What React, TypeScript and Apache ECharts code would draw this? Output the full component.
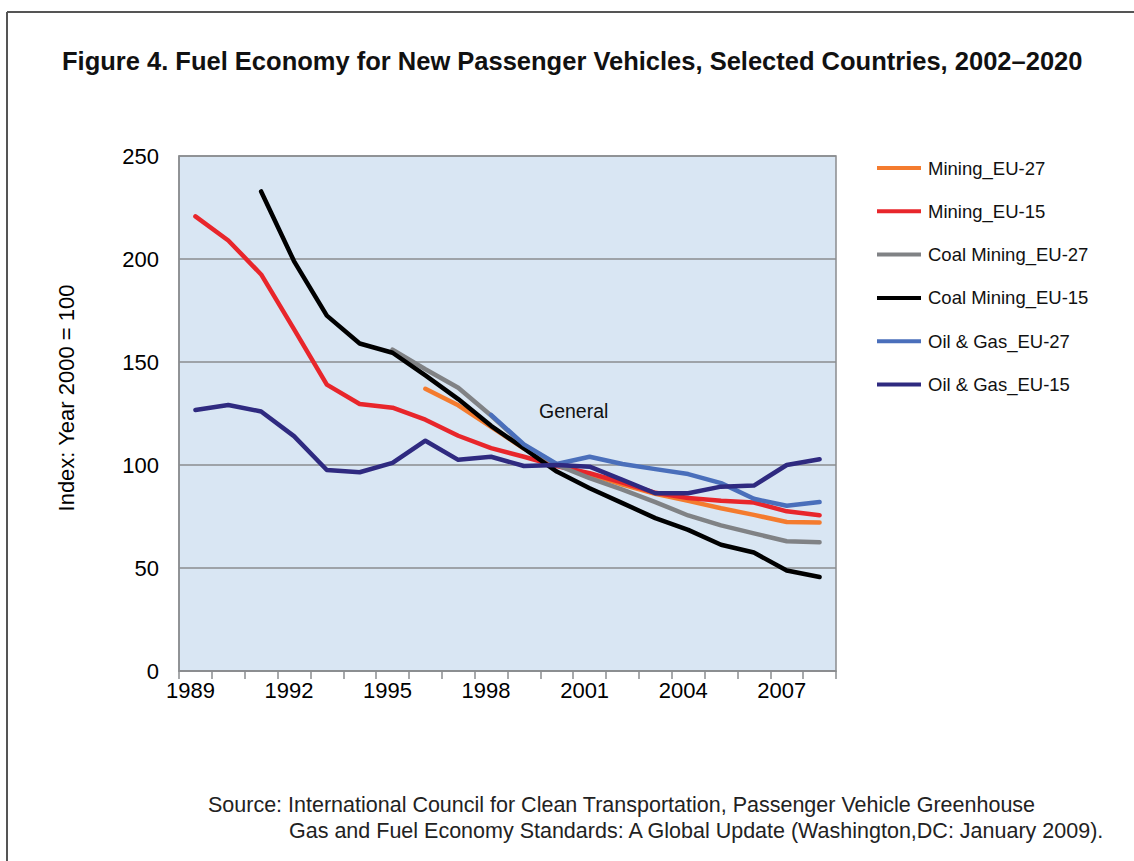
import React, { useEffect, useRef } from "react";
import * as echarts from "echarts";

const years = ["1989", "1990", "1991", "1992", "1993", "1994", "1995", "1996", "1997", "1998", "1999", "2000", "2001", "2002", "2003", "2004", "2005", "2006", "2007", "2008"];

const miningEU27 = [null, null, null, null, null, null, null, 137, 129, 118.5, 108, 100, 95.5, 90.5, 86, 82.6, 79, 75.8, 72.3, 72.1];
const miningEU15 = [220.7, 209, 192.5, 166, 139, 129.6, 127.8, 122, 114.2, 108.2, 104, 99.5, 96, 91.5, 86.5, 84, 82.6, 81.8, 77.5, 75.6];
const coalEU27 = [null, null, null, null, null, null, 156, 146.5, 137.5, 124, 109.5, 100, 93.6, 88, 82, 75.5, 70.7, 66.8, 63, 62.5];
const coalEU15 = [null, null, 232.8, 199, 172.5, 159, 154.5, 143.5, 132, 119, 108, 96.8, 88.7, 81.5, 74.2, 68.5, 61.3, 57.5, 48.8, 45.6];
const oilGasEU27 = [null, null, null, null, null, null, null, null, null, 124.3, 110, 100.5, 104, 100.5, 98, 95.6, 91.2, 83.6, 80.2, 82];
const oilGasEU15 = [126.7, 129.1, 126, 114, 97.6, 96.5, 101, 111.8, 102.5, 104, 99.5, 100, 99.2, 92.8, 86.3, 86.3, 89.5, 90, 100, 102.8];

const seriesNames = ["Mining_EU-27", "Mining_EU-15", "Coal Mining_EU-27", "Coal Mining_EU-15", "Oil & Gas_EU-27", "Oil & Gas_EU-15"];
const seriesColors = ["#F47B2E", "#E8262B", "#808285", "#000000", "#4A6FBB", "#2F2A80"];
const seriesData = [miningEU27, miningEU15, coalEU27, coalEU15, oilGasEU27, oilGasEU15];

const titleText = "Figure 4. Fuel Economy for New Passenger Vehicles, Selected Countries, 2002–2020";
const yAxisTitle = "Index: Year 2000 = 100";
const annotation = "General";
const sourceLine1 = "Source: International Council for Clean Transportation, Passenger Vehicle Greenhouse";
const sourceLine2 = "Gas and Fuel Economy Standards: A Global Update (Washington,DC: January 2009).";

const FONT = "'Liberation Sans', Arial, Helvetica, sans-serif";

export default function App() {
  const ref = useRef<HTMLDivElement>(null);
  useEffect(() => {
    if (!ref.current) return;
    const chart = echarts.init(ref.current, null, { renderer: "svg" });
    chart.setOption({
      animation: false,
      backgroundColor: "#ffffff",
      textStyle: { fontFamily: FONT },
      grid: {
        left: 179,
        right: 298,
        top: 156,
        bottom: 190,
        show: true,
        backgroundColor: "#D9E6F3",
        borderColor: "#8A8C8F",
        borderWidth: 1.5,
      },
      legend: {
        orient: "vertical",
        left: 872,
        top: 153,
        itemWidth: 44,
        itemHeight: 4,
        itemGap: 23.3,
        icon: "rect",
        data: seriesNames,
        textStyle: { fontFamily: FONT, fontSize: 18.5, color: "#111", lineHeight: 20, padding: [0, 0, 0, 2] },
      },
      xAxis: {
        type: "category",
        data: years,
        boundaryGap: true,
        axisLine: { lineStyle: { color: "#8A8C8F", width: 1.5 } },
        axisTick: { show: true, interval: 0, length: 8, lineStyle: { color: "#8A8C8F", width: 1.5 } },
        axisLabel: { interval: 2, color: "#000", fontSize: 22, fontFamily: FONT, margin: 8, padding: [0, 10, 0, 0] },
        splitLine: { show: false },
      },
      yAxis: {
        type: "value",
        min: 0,
        max: 250,
        interval: 50,
        axisLine: { show: true, lineStyle: { color: "#8A8C8F", width: 1.5 } },
        axisTick: { show: false },
        axisLabel: { color: "#000", fontSize: 22, fontFamily: FONT, margin: 20 },
        splitLine: { show: true, lineStyle: { color: "#8A8C8F", width: 1.5 } },
      },
      series: seriesData.map((d, i) => ({
        name: seriesNames[i],
        type: "line",
        data: d,
        showSymbol: false,
        symbol: "none",
        connectNulls: false,
        color: seriesColors[i],
        lineStyle: { color: seriesColors[i], width: 4.5, cap: "round", join: "round" },
      })),
      graphic: [
        { type: "line", shape: { x1: 7, y1: 12, x2: 1134, y2: 12 }, style: { stroke: "#555", lineWidth: 2 } },
        { type: "line", shape: { x1: 7, y1: 12, x2: 7, y2: 861 }, style: { stroke: "#555", lineWidth: 2 } },
        {
          type: "text",
          x: 62,
          y: 61,
          style: { text: titleText, fontFamily: FONT, fontSize: 25.5, fontWeight: "bold", fill: "#111", textVerticalAlign: "middle" },
        },
        {
          type: "text",
          x: 66,
          y: 398,
          rotation: Math.PI / 2,
          style: { text: yAxisTitle, fontFamily: FONT, fontSize: 22, fill: "#000", textAlign: "center", textVerticalAlign: "middle" },
        },
        {
          type: "text",
          x: 539,
          y: 411,
          style: { text: annotation, fontFamily: FONT, fontSize: 19.5, fill: "#111", textVerticalAlign: "middle" },
        },
        {
          type: "text",
          x: 208,
          y: 805,
          style: { text: sourceLine1, fontFamily: FONT, fontSize: 21.5, fill: "#222", textVerticalAlign: "middle" },
        },
        {
          type: "text",
          x: 289,
          y: 831,
          style: { text: sourceLine2, fontFamily: FONT, fontSize: 21.5, fill: "#222", textVerticalAlign: "middle" },
        },
      ],
    });
    return () => chart.dispose();
  }, []);
  return <div ref={ref} style={{ position: "fixed", left: 0, top: 0, width: 1134, height: 861 }} />;
}
